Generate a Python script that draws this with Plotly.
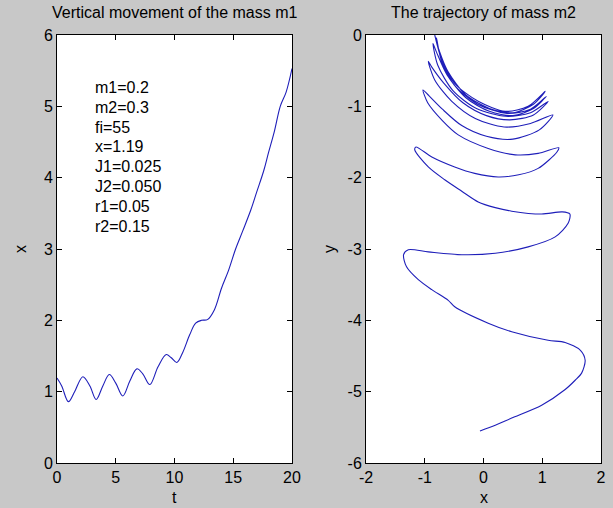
import plotly.graph_objects as go

# ---- Left panel: vertical movement of mass m1 ----
t_vals = [0, 0.4, 0.97, 1.5, 2.2, 2.8, 3.33, 3.9, 4.45, 5.0, 5.6, 6.2, 6.8, 7.3, 7.9,
          8.6, 9.3, 9.7, 10.2, 10.7, 11.3, 11.8, 12.3, 12.8, 13.4, 14.0, 14.6, 15.2,
          15.8, 16.5, 17.0, 17.6, 18.0, 18.5, 19.0, 19.5, 20.0]
x_vals = [1.19, 1.08, 0.86, 1.0, 1.21, 1.08, 0.89, 1.08, 1.24, 1.12, 0.94, 1.15, 1.32, 1.25, 1.10,
          1.35, 1.52, 1.48, 1.41, 1.55, 1.80, 1.96, 2.0, 2.01, 2.15, 2.45, 2.70, 3.0,
          3.25, 3.55, 3.8, 4.1, 4.35, 4.65, 5.0, 5.2, 5.53]

params = ["m1=0.2", "m2=0.3", "fi=55", "x=1.19", "J1=0.025", "J2=0.050", "r1=0.05", "r2=0.15"]

# tick labels (ASCII hyphen-minus as in the reference)
t_ticks = [0, 5, 10, 15, 20]
x_ticks = [0, 1, 2, 3, 4, 5, 6]
trajx_ticks = [-2, -1, 0, 1, 2]
trajy_ticks = [-6, -5, -4, -3, -2, -1, 0]

# ---- Right panel: trajectory of mass m2 ----
traj_x = [
    -0.83, -0.71, -0.49, -0.09, 0.37, 0.76, 1.05,
    0.85, 0.5, 0.1, -0.3, -0.6, -0.78, -0.8,
    -0.72, -0.5, -0.1, 0.4, 0.8, 1.07,
    0.85, 0.5, 0.1, -0.3, -0.62, -0.8, -0.86,
    -0.78, -0.52, -0.12, 0.38, 0.8, 1.1,
    0.85, 0.45, 0.05, -0.35, -0.68, -0.88, -0.94,
    -0.83, -0.54, -0.14, 0.35, 0.8, 1.18,
    0.95, 0.5, 0.05, -0.37, -0.7, -0.93, -1.03,
    -0.95, -0.7, -0.43, 0.08, 0.54, 0.93, 1.28,
    1.25, 0.93, 0.6, 0.25, -0.15, -0.49, -0.88, -1.15,
    -1.17, -0.94, -0.66, -0.37, -0.09, 0.2, 0.48, 0.99, 1.34, 1.47,
    1.44, 1.22, 0.76, 0.2, -0.37, -0.94, -1.28, -1.36,
    -1.31, -1.11, -0.88, -0.6, -0.49, 0.08, 0.48, 1.1, 1.39, 1.65, 1.73, 1.67,
    1.56, 1.39, 0.99, 0.48, 0.2, -0.06,
]
traj_y = [
    0.0, -0.35, -0.68, -0.93, -1.07, -1.0, -0.79,
    -0.97, -1.09, -1.03, -0.84, -0.52, -0.15, -0.04,
    -0.35, -0.7, -0.97, -1.1, -1.04, -0.86,
    -1.03, -1.13, -1.07, -0.88, -0.56, -0.24, -0.12,
    -0.42, -0.78, -1.03, -1.14, -1.09, -0.93,
    -1.12, -1.19, -1.13, -0.95, -0.67, -0.45, -0.37,
    -0.63, -0.93, -1.17, -1.29, -1.24, -1.12,
    -1.33, -1.46, -1.42, -1.27, -1.04, -0.85, -0.77,
    -0.95, -1.2, -1.40, -1.59, -1.68, -1.66, -1.58,
    -1.64, -1.87, -1.96, -1.99, -1.94, -1.85, -1.71, -1.57,
    -1.61, -1.85, -2.03, -2.19, -2.34, -2.42, -2.47, -2.51, -2.48, -2.51,
    -2.64, -2.83, -2.97, -3.06, -3.08, -3.04, -3.01, -3.08,
    -3.25, -3.43, -3.57, -3.72, -3.81, -4.04, -4.16, -4.28, -4.31, -4.42, -4.56, -4.74,
    -4.84, -4.97, -5.19, -5.37, -5.47, -5.55,
]

LINE = "rgb(30,30,185)"
FONT = "Liberation Sans, Arial, sans-serif"
W, H = 613, 508

fig = go.Figure()
fig.add_trace(go.Scatter(x=t_vals, y=x_vals, mode="lines", xaxis="x", yaxis="y",
                         line=dict(color=LINE, width=1.1, shape="spline", smoothing=1.0),
                         hoverinfo="skip", showlegend=False))
fig.add_trace(go.Scatter(x=traj_x, y=traj_y, mode="lines", xaxis="x2", yaxis="y2",
                         line=dict(color=LINE, width=1.1, shape="spline", smoothing=0.8),
                         hoverinfo="skip", showlegend=False))

# pixel geometry of axes boxes
L1, R1 = 57, 292
L2, R2 = 366, 601
TOP, BOT = 35, 463
dx1 = [L1 / W, R1 / W]
dx2 = [L2 / W, R2 / W]
dy = [1 - BOT / H, 1 - TOP / H]

axis_common = dict(showgrid=False, zeroline=False, showline=True, linecolor="black",
                   linewidth=1, mirror="ticks", ticks="inside", ticklen=5,
                   tickcolor="black", tickfont=dict(family=FONT, size=16, color="black"),
                   automargin=False)


def lab(v):
    return [str(k) for k in v]


fig.update_layout(
    width=W, height=H,
    margin=dict(l=0, r=0, t=0, b=0),
    paper_bgcolor="rgb(200,200,200)",
    plot_bgcolor="white",
    font=dict(family=FONT, size=16, color="black"),
    xaxis=dict(domain=dx1, range=[0, 20], tickvals=t_ticks, ticktext=lab(t_ticks),
               anchor="y", **axis_common),
    yaxis=dict(domain=dy, range=[0, 6], tickvals=x_ticks, ticktext=lab(x_ticks),
               anchor="x", **axis_common),
    xaxis2=dict(domain=dx2, range=[-2, 2], tickvals=trajx_ticks, ticktext=lab(trajx_ticks),
                anchor="y2", **axis_common),
    yaxis2=dict(domain=dy, range=[-6, 0], tickvals=trajy_ticks, ticktext=lab(trajy_ticks),
                anchor="x2", **axis_common),
)

ann = []
# titles
ann.append(dict(text="Vertical movement of the mass m1", x=(L1 + R1) / 2 / W, y=1 - 13 / H,
                xref="paper", yref="paper", showarrow=False, xanchor="center", yanchor="middle",
                font=dict(size=16)))
ann.append(dict(text="The trajectory of mass m2", x=(L2 + R2) / 2 / W, y=1 - 13 / H,
                xref="paper", yref="paper", showarrow=False, xanchor="center", yanchor="middle",
                font=dict(size=16)))
# axis labels
ann.append(dict(text="t", x=(L1 + R1) / 2 / W, y=1 - 497 / H, xref="paper", yref="paper",
                showarrow=False, xanchor="center", yanchor="middle"))
ann.append(dict(text="x", x=(L2 + R2) / 2 / W, y=1 - 497 / H, xref="paper", yref="paper",
                showarrow=False, xanchor="center", yanchor="middle"))
ann.append(dict(text="x", x=20 / W, y=1 - 249 / H, xref="paper", yref="paper", textangle=-90,
                showarrow=False, xanchor="center", yanchor="middle"))
ann.append(dict(text="y", x=329 / W, y=1 - 249 / H, xref="paper", yref="paper", textangle=-90,
                showarrow=False, xanchor="center", yanchor="middle"))
# parameter text block (data coordinates of left panel)
y0 = 5.27
for i, s in enumerate(params):
    ann.append(dict(text=s, x=3.1, y=y0 - i * 0.28, xref="x", yref="y", showarrow=False,
                    xanchor="left", yanchor="middle", font=dict(size=16)))
fig.update_layout(annotations=ann)

fig.write_html("out.html")
